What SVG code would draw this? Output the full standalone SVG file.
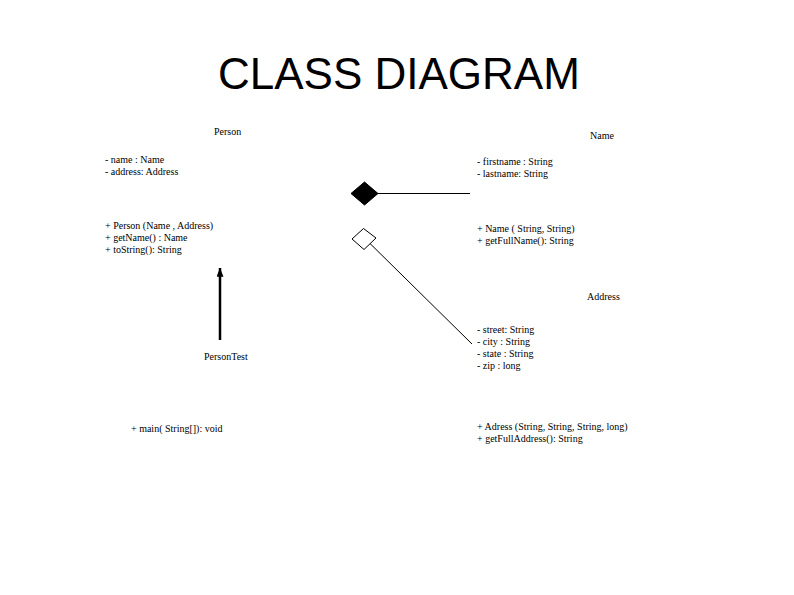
<svg xmlns="http://www.w3.org/2000/svg" width="794" height="595" viewBox="0 0 794 595">
<style>
.t{font-family:"Liberation Serif","Times New Roman",serif;font-size:10px;fill:#000}
.title{font-family:"Liberation Sans",Arial,sans-serif;font-size:44px;fill:#000}
.ln{stroke:#000;fill:none}
</style>
<defs>
<marker id="arr" viewBox="0 0 10 8" refX="10" refY="4" markerWidth="12" markerHeight="7" markerUnits="userSpaceOnUse" orient="auto">
<path d="M0,0 L10,4 L0,8 Z" fill="#000"/>
</marker>
</defs>
<rect width="794" height="595" fill="#fff"/>
<text class="title" x="218" y="89">CLASS DIAGRAM</text>
<g id="Person">
<text class="t" x="214" y="135">Person</text>
<text class="t" x="105" y="163">- name : Name</text>
<text class="t" x="105" y="175">- address: Address</text>
<text class="t" x="105" y="229">+ Person (Name , Address)</text>
<text class="t" x="105" y="241">+ getName() : Name</text>
<text class="t" x="105" y="253">+ toString(): String</text>
</g>
<g id="Name">
<text class="t" x="590" y="139">Name</text>
<text class="t" x="477" y="165">-  firstname : String</text>
<text class="t" x="477" y="177">- lastname: String</text>
<text class="t" x="477" y="232">+ Name ( String, String)</text>
<text class="t" x="477" y="244">+ getFullName(): String</text>
</g>
<g id="Address">
<text class="t" x="587" y="300">Address</text>
<text class="t" x="477" y="333">-  street: String</text>
<text class="t" x="477" y="345">- city : String</text>
<text class="t" x="477" y="357">- state :  String</text>
<text class="t" x="477" y="369">- zip : long</text>
<text class="t" x="477" y="430">+ Adress (String, String, String, long)</text>
<text class="t" x="477" y="442">+ getFullAddress(): String</text>
</g>
<g id="PersonTest">
<text class="t" x="204" y="360">PersonTest</text>
<text class="t" x="131" y="432">+ main( String[]): void</text>
</g>
<g id="connectors">
<path d="M351,193.5 L364.5,182 L378,193.5 L364.5,205 Z" fill="#000" stroke="#000"/>
<line class="ln" x1="378" y1="193.5" x2="470" y2="193.5"/>
<path d="M352,239 L363.5,228.5 L376,238 L364,249.5 Z" fill="#fff" stroke="#000"/>
<line class="ln" x1="370" y1="243.5" x2="472" y2="344"/>
<line class="ln" x1="220" y1="340" x2="220" y2="268" stroke-width="2.5" marker-end="url(#arr)"/>
</g>
</svg>
